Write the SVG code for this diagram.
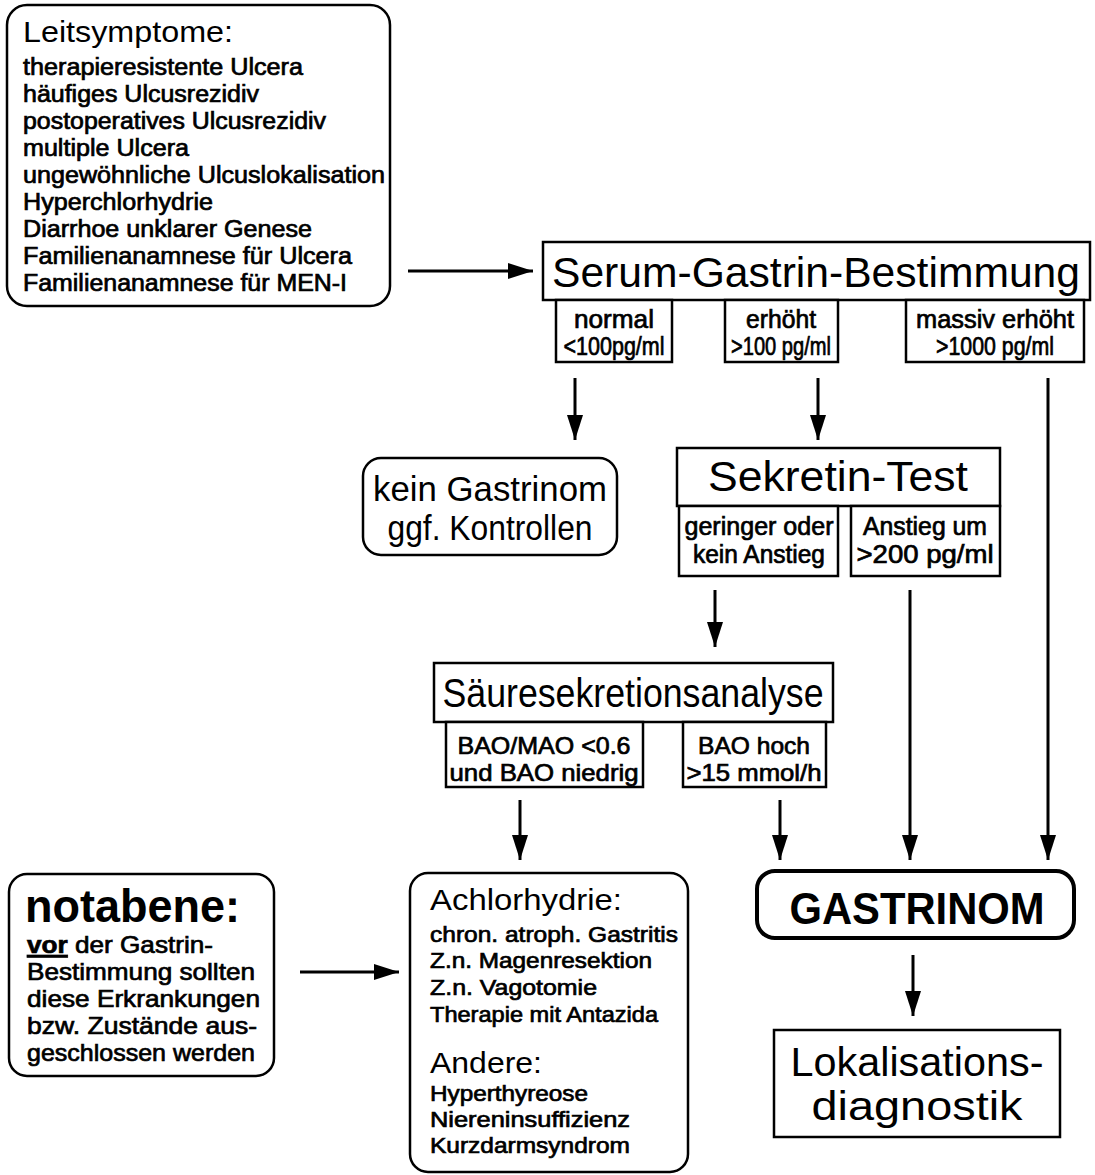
<svg xmlns="http://www.w3.org/2000/svg" width="1095" height="1175" viewBox="0 0 1095 1175">
  <style>
    .box { fill: #fff; stroke: #000; stroke-width: 2.5; }
    .thick { stroke-width: 4; }
    .t { font-family: "Liberation Sans", Arial, Helvetica, sans-serif; fill: #000; }
    .m { stroke: #000; stroke-width: 0.7; }
    .b { font-weight: bold; }
    .c { text-anchor: middle; }
    .arrow { stroke: #000; stroke-width: 3; fill: none; marker-end: url(#head); }
  </style>
  <defs>
    <marker id="head" markerUnits="userSpaceOnUse" markerWidth="26" markerHeight="16" refX="25" refY="8" orient="auto">
      <path d="M0,0 L25,8 L0,16 z" fill="#000"/>
    </marker>
  </defs>
  <rect width="1095" height="1175" fill="#fff"/>

  <!-- connectors -->
  <g id="connectors">
    <line class="arrow" x1="408" y1="271" x2="533" y2="271"/>
    <line class="arrow" x1="575" y1="378" x2="575" y2="440"/>
    <line class="arrow" x1="818" y1="378" x2="818" y2="440"/>
    <line class="arrow" x1="1048" y1="378" x2="1048" y2="860"/>
    <line class="arrow" x1="715" y1="590" x2="715" y2="647"/>
    <line class="arrow" x1="910" y1="590" x2="910" y2="860"/>
    <line class="arrow" x1="520" y1="800" x2="520" y2="860"/>
    <line class="arrow" x1="780" y1="800" x2="780" y2="860"/>
    <line class="arrow" x1="300" y1="972" x2="399" y2="972"/>
    <line class="arrow" x1="913" y1="955" x2="913" y2="1016"/>
  </g>

  <!-- lead symptoms -->
  <g id="leitsymptome">
    <rect class="box" x="7" y="5" width="383" height="301" rx="20"/>
    <text class="t" x="23" y="42" font-size="30" textLength="210" lengthAdjust="spacingAndGlyphs">Leitsymptome:</text>
    <g class="t m" font-size="23" lengthAdjust="spacingAndGlyphs">
      <text x="23" y="75" textLength="280" lengthAdjust="spacingAndGlyphs">therapieresistente Ulcera</text>
      <text x="23" y="102" textLength="236" lengthAdjust="spacingAndGlyphs">häufiges Ulcusrezidiv</text>
      <text x="23" y="129" textLength="303" lengthAdjust="spacingAndGlyphs">postoperatives Ulcusrezidiv</text>
      <text x="23" y="156" textLength="166" lengthAdjust="spacingAndGlyphs">multiple Ulcera</text>
      <text x="23" y="183" textLength="362" lengthAdjust="spacingAndGlyphs">ungewöhnliche Ulcuslokalisation</text>
      <text x="23" y="210" textLength="190" lengthAdjust="spacingAndGlyphs">Hyperchlorhydrie</text>
      <text x="23" y="237" textLength="289" lengthAdjust="spacingAndGlyphs">Diarrhoe unklarer Genese</text>
      <text x="23" y="264" textLength="329" lengthAdjust="spacingAndGlyphs">Familienanamnese für Ulcera</text>
      <text x="23" y="291" textLength="324" lengthAdjust="spacingAndGlyphs">Familienanamnese für MEN-I</text>
    </g>
  </g>

  <!-- serum gastrin -->
  <g id="serum-gastrin">
    <rect class="box" x="543" y="242" width="547" height="58"/>
    <text class="t c" x="816" y="287" font-size="43" textLength="528" lengthAdjust="spacingAndGlyphs">Serum-Gastrin-Bestimmung</text>
  </g>
  <g id="gastrin-normal">
    <rect class="box" x="556" y="300" width="116" height="62"/>
    <text class="t m c" x="614" y="328" font-size="25" textLength="80" lengthAdjust="spacingAndGlyphs">normal</text>
    <text class="t m c" x="614" y="355" font-size="25" textLength="101" lengthAdjust="spacingAndGlyphs">&lt;100pg/ml</text>
  </g>
  <g id="gastrin-erhoeht">
    <rect class="box" x="725" y="300" width="113" height="62"/>
    <text class="t m c" x="781" y="328" font-size="25" textLength="70" lengthAdjust="spacingAndGlyphs">erhöht</text>
    <text class="t m c" x="781" y="355" font-size="25" textLength="100" lengthAdjust="spacingAndGlyphs">&gt;100 pg/ml</text>
  </g>
  <g id="gastrin-massiv">
    <rect class="box" x="906" y="300" width="178" height="62"/>
    <text class="t m c" x="995" y="328" font-size="25" textLength="158" lengthAdjust="spacingAndGlyphs">massiv erhöht</text>
    <text class="t m c" x="995" y="355" font-size="25" textLength="118" lengthAdjust="spacingAndGlyphs">&gt;1000 pg/ml</text>
  </g>

  <!-- no gastrinoma -->
  <g id="kein-gastrinom">
    <rect class="box" x="363" y="458" width="254" height="97" rx="18"/>
    <text class="t c" x="490" y="501" font-size="35" textLength="234" lengthAdjust="spacingAndGlyphs">kein Gastrinom</text>
    <text class="t c" x="490" y="540" font-size="35" textLength="205" lengthAdjust="spacingAndGlyphs">ggf. Kontrollen</text>
  </g>

  <!-- secretin test -->
  <g id="sekretin-test">
    <rect class="box" x="677" y="448" width="323" height="58"/>
    <text class="t c" x="838" y="491" font-size="43" textLength="260" lengthAdjust="spacingAndGlyphs">Sekretin-Test</text>
  </g>
  <g id="sekretin-gering">
    <rect class="box" x="679" y="506" width="159" height="70"/>
    <text class="t m c" x="759" y="535" font-size="25" textLength="149" lengthAdjust="spacingAndGlyphs">geringer oder</text>
    <text class="t m c" x="759" y="563" font-size="25" textLength="132" lengthAdjust="spacingAndGlyphs">kein Anstieg</text>
  </g>
  <g id="sekretin-anstieg">
    <rect class="box" x="851" y="506" width="149" height="70"/>
    <text class="t m c" x="925" y="535" font-size="25" textLength="124" lengthAdjust="spacingAndGlyphs">Anstieg um</text>
    <text class="t m c" x="925" y="563" font-size="25" textLength="137" lengthAdjust="spacingAndGlyphs">&gt;200 pg/ml</text>
  </g>

  <!-- acid secretion analysis -->
  <g id="saeuresekretion">
    <rect class="box" x="434" y="663" width="399" height="59"/>
    <text class="t c" x="633" y="707" font-size="40" textLength="381" lengthAdjust="spacingAndGlyphs">Säuresekretionsanalyse</text>
  </g>
  <g id="bao-niedrig">
    <rect class="box" x="446" y="722" width="197" height="65"/>
    <text class="t m c" x="544" y="754" font-size="24" textLength="173" lengthAdjust="spacingAndGlyphs">BAO/MAO &lt;0.6</text>
    <text class="t m c" x="544" y="781" font-size="24" textLength="189" lengthAdjust="spacingAndGlyphs">und BAO niedrig</text>
  </g>
  <g id="bao-hoch">
    <rect class="box" x="683" y="722" width="143" height="65"/>
    <text class="t m c" x="754" y="754" font-size="24" textLength="112" lengthAdjust="spacingAndGlyphs">BAO hoch</text>
    <text class="t m c" x="754" y="781" font-size="24" textLength="135" lengthAdjust="spacingAndGlyphs">&gt;15 mmol/h</text>
  </g>

  <!-- note -->
  <g id="notabene">
    <rect class="box" x="9" y="874" width="265" height="202" rx="18"/>
    <text class="t b" x="25" y="922" font-size="46" textLength="215" lengthAdjust="spacingAndGlyphs">notabene:</text>
    <g class="t m" font-size="24">
      <text x="27" y="953" textLength="186" lengthAdjust="spacingAndGlyphs"><tspan font-weight="bold" text-decoration="underline">vor</tspan> der Gastrin-</text>
      <text x="27" y="980" textLength="228" lengthAdjust="spacingAndGlyphs">Bestimmung sollten</text>
      <text x="27" y="1007" textLength="233" lengthAdjust="spacingAndGlyphs">diese Erkrankungen</text>
      <text x="27" y="1034" textLength="230" lengthAdjust="spacingAndGlyphs">bzw. Zustände aus-</text>
      <text x="27" y="1061" textLength="228" lengthAdjust="spacingAndGlyphs">geschlossen werden</text>
    </g>
  </g>

  <!-- achlorhydria and others -->
  <g id="achlorhydrie">
    <rect class="box" x="410" y="873" width="278" height="299" rx="18"/>
    <text class="t" x="430" y="910" font-size="30" textLength="192" lengthAdjust="spacingAndGlyphs">Achlorhydrie:</text>
    <g class="t m" font-size="22">
      <text x="430" y="942" textLength="248" lengthAdjust="spacingAndGlyphs">chron. atroph. Gastritis</text>
      <text x="430" y="968" textLength="222" lengthAdjust="spacingAndGlyphs">Z.n. Magenresektion</text>
      <text x="430" y="995" textLength="167" lengthAdjust="spacingAndGlyphs">Z.n. Vagotomie</text>
      <text x="430" y="1022" textLength="228" lengthAdjust="spacingAndGlyphs">Therapie mit Antazida</text>
    </g>
    <text class="t" x="430" y="1073" font-size="30" textLength="112" lengthAdjust="spacingAndGlyphs">Andere:</text>
    <g class="t m" font-size="22">
      <text x="430" y="1101" textLength="158" lengthAdjust="spacingAndGlyphs">Hyperthyreose</text>
      <text x="430" y="1127" textLength="200" lengthAdjust="spacingAndGlyphs">Niereninsuffizienz</text>
      <text x="430" y="1153" textLength="200" lengthAdjust="spacingAndGlyphs">Kurzdarmsyndrom</text>
    </g>
  </g>

  <!-- gastrinoma -->
  <g id="gastrinom">
    <rect class="box thick" x="757" y="871" width="317" height="67" rx="18"/>
    <text class="t b c" x="917" y="924" font-size="45" textLength="255" lengthAdjust="spacingAndGlyphs">GASTRINOM</text>
  </g>

  <!-- localisation -->
  <g id="lokalisationsdiagnostik">
    <rect class="box" x="774" y="1030" width="286" height="107"/>
    <text class="t c" x="917" y="1076" font-size="40" textLength="253" lengthAdjust="spacingAndGlyphs">Lokalisations-</text>
    <text class="t c" x="917" y="1120" font-size="40" textLength="211" lengthAdjust="spacingAndGlyphs">diagnostik</text>
  </g>
</svg>
